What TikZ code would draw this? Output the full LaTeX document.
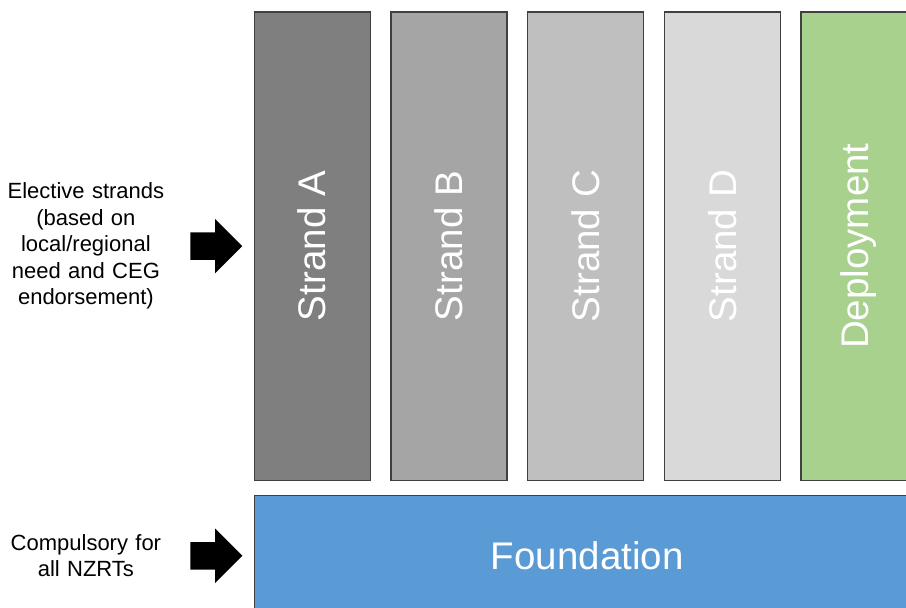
\documentclass[tikz,border=0pt]{standalone}
\usepackage{fontspec}
\setmainfont{Liberation Sans}
\usetikzlibrary{positioning,shapes.arrows}

\definecolor{stranda}{HTML}{7F7F7F}
\definecolor{strandb}{HTML}{A5A5A5}
\definecolor{strandc}{HTML}{BFBFBF}
\definecolor{strandd}{HTML}{D9D9D9}
\definecolor{deploy}{HTML}{A9D18E}
\definecolor{found}{HTML}{5B9BD5}
\definecolor{edgegray}{HTML}{404040}

\tikzset{
  strandbox/.style={draw=edgegray, line width=1.2bp, minimum width=116bp, minimum height=468bp, inner sep=0pt},
  striptext/.style={rotate=90, text=white, inner sep=0pt, font=\fontsize{38.5bp}{40bp}\selectfont},
  pointer/.style={single arrow, fill=black, draw=none, minimum height=52bp, minimum width=54bp,
    single arrow head extend=13.5bp, inner xsep=0pt, inner ysep=13.5bp},
  sidetext/.style={text width=172bp, align=center, inner sep=0pt, font=\fontsize{22bp}{26.5bp}\selectfont}
}

\begin{document}
\begin{tikzpicture}[x=1bp,y=-1bp]
\useasboundingbox (0,0) rectangle (906,608);
% elective strands
\node[strandbox, fill=stranda, anchor=north west] (a) at (253.6,11.5) {};
\node[strandbox, fill=strandb, right=19.5bp of a] (b) {};
\node[strandbox, fill=strandc, right=19.5bp of b] (c) {};
\node[strandbox, fill=strandd, right=19.5bp of c] (d) {};
\node[strandbox, fill=deploy, right=19.5bp of d] (dep) {};
\node[striptext] (ta) at (a) {Strand A};
\node[striptext] (tb) at (b) {Strand B};
\node[striptext] (tc) at (c) {Strand C};
\node[striptext] (td) at (d) {Strand D};
\node[striptext] (tdep) at (dep) {Deployment};
% compulsory part
\node[strandbox, fill=found, minimum width=666bp, minimum height=120bp, text=white,
  font=\fontsize{38.5bp}{40bp}\selectfont, below right=14.5bp and 0bp of a.south west] (f) {Foundation};
% arrows and side notes
\node[pointer, left=11bp of a.west] (p1) {};
\node[pointer, left=11bp of f.west] (p2) {};
\node[sidetext, left=18bp of p1.west] (elective) {Elective strands\\(based on\\local/regional\\need and CEG\\endorsement)};
\node[sidetext, left=18bp of p2.west] (compulsory) {Compulsory for\\all NZRTs};
\end{tikzpicture}
\end{document}
